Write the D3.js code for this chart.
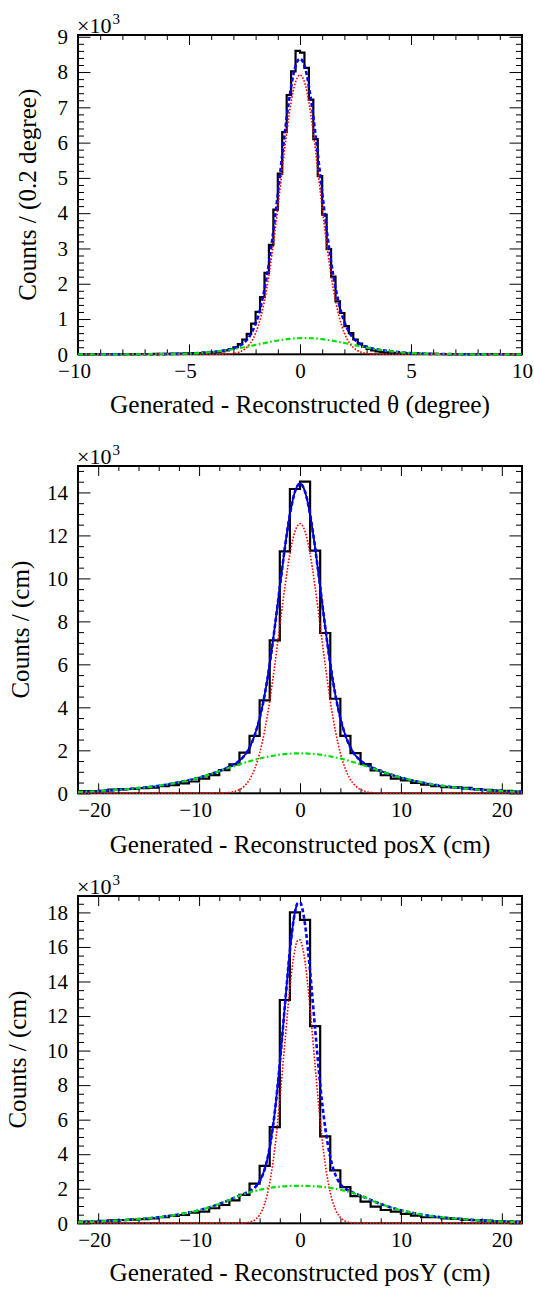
<!DOCTYPE html>
<html><head><meta charset="utf-8">
<script src="https://cdn.jsdelivr.net/npm/d3@7"></script>
<style>
body{margin:0;background:#fff}
svg{display:block}
</style>
</head><body>
<svg id="c" width="534" height="1291"></svg>
<script>
const FONT = "'Liberation Serif', serif";
// ---------------- DATA (counts in units of 10^3) ----------------
// Panel 1: theta residual, 0.2 degree bins from -10 to 10
const thetaCounts = [
 0.002,0.003,0.002,0.003,0.003,0.004,0.003,0.004,0.005,0.004,
 0.005,0.006,0.005,0.007,0.008,0.008,0.009,0.010,0.012,0.013,
 0.015,0.017,0.019,0.022,0.025,0.028,0.032,0.036,0.041,0.047,
 0.055,0.065,0.08,0.11,0.15,0.2,0.29,0.42,0.58,0.87,
 1.2,1.62,2.31,3.1,4.1,5.12,6.3,7.35,8.02,8.6,
 8.55,8.12,7.22,6.1,5.05,3.96,2.98,2.2,1.5,1.17,
 0.8,0.6,0.42,0.3,0.22,0.15,0.11,0.08,0.065,0.055,
 0.046,0.04,0.034,0.03,0.026,0.022,0.019,0.016,0.014,0.012,
 0.01,0.009,0.008,0.007,0.006,0.006,0.005,0.005,0.004,0.004,
 0.004,0.003,0.003,0.003,0.002,0.003,0.002,0.002,0.002,0.002];
const thetaFitX = [-10,-8,-6,-5,-4.5,-4,-3.5,-3,-2.75,-2.5,-2.25,-2,-1.75,-1.5,-1.25,-1,-0.75,-0.5,-0.25,0,
 0.25,0.5,0.75,1,1.25,1.5,1.75,2,2.25,2.5,2.75,3,3.5,4,4.5,5,6,8,10];
const thetaTotal = [0,0.0002,0.006,0.021,0.038,0.063,0.100,0.168,0.232,0.341,0.534,0.865,1.396,2.185,3.252,4.541,5.925,7.175,8.06,8.378,
 8.07,7.195,5.955,4.578,3.296,2.233,1.447,0.918,0.587,0.393,0.280,0.213,0.137,0.090,0.057,0.034,0.010,0.0005,0];
const thetaCore = [0,0,0,0,0,0.0005,0.003,0.024,0.06,0.14,0.301,0.599,1.097,1.853,2.89,4.15,5.51,6.74,7.61,7.92,
 7.61,6.74,5.51,4.15,2.89,1.853,1.097,0.599,0.301,0.14,0.06,0.024,0.003,0.0005,0,0,0,0,0];
const thetaTail = [0,0.0002,0.006,0.021,0.038,0.062,0.097,0.144,0.172,0.201,0.233,0.266,0.299,0.332,0.362,0.391,0.415,0.435,0.450,0.458,
 0.46,0.455,0.445,0.428,0.406,0.380,0.350,0.319,0.286,0.253,0.220,0.189,0.134,0.090,0.057,0.034,0.010,0.0005,0];

// Panel 2: posX residual, 1 cm bins from -22 to 22
const posXCounts = [
 0.10,0.10,0.11,0.17,0.19,0.20,0.24,0.26,0.33,0.38,
 0.46,0.55,0.68,0.85,1.08,1.35,1.89,2.67,4.32,7.12,
 11.26,14.16,14.5,11.29,7.46,4.4,2.67,1.87,1.36,1.06,
 0.84,0.68,0.6,0.48,0.4,0.33,0.29,0.28,0.25,0.19,
 0.16,0.13,0.11,0.08];
const posXFitX = [-22,-21,-20,-19,-18,-17,-16,-15,-14,-13,-12,-11,-10,-9,-8,
 -7,-6.5,-6,-5.5,-5,-4.5,-4,-3.5,-3,-2.5,-2,-1.5,-1,-0.5,0,0.5,1,1.5,2,2.5,3,3.5,4,4.5,5,5.5,6,6.5,7,
 8,9,10,11,12,13,14,15,16,17,18,19,20,21,22];
const posXTotal = [0.065,0.08,0.1,0.13,0.16,0.2,0.24,0.29,0.35,0.42,0.51,0.61,0.73,0.87,1.036,
 1.227,1.352,1.52,1.76,2.13,2.69,3.49,4.59,6.02,7.73,9.60,11.425,12.98,14.035,14.41,14.035,12.98,11.425,9.60,7.73,6.02,4.59,3.49,2.69,2.13,1.76,1.52,1.352,1.227,
 1.036,0.87,0.73,0.61,0.51,0.42,0.35,0.29,0.24,0.2,0.16,0.13,0.1,0.08,0.065];
const posXCore = [0,0,0,0,0,0,0,0,0,0,0,0,0,0,0.006,
 0.037,0.082,0.17,0.34,0.64,1.13,1.87,2.92,4.30,5.97,7.80,9.60,11.14,12.18,12.55,12.18,11.14,9.60,7.80,5.97,4.30,2.92,1.87,1.13,0.64,0.34,0.17,0.082,0.037,
 0.006,0,0,0,0,0,0,0,0,0,0,0,0,0,0];
const posXTail = [0.065,0.08,0.1,0.13,0.16,0.2,0.24,0.29,0.35,0.42,0.51,0.61,0.73,0.87,1.03,
 1.19,1.27,1.35,1.42,1.49,1.56,1.62,1.67,1.72,1.76,1.80,1.825,1.84,1.855,1.86,1.855,1.84,1.825,1.80,1.76,1.72,1.67,1.62,1.56,1.49,1.42,1.35,1.27,1.19,
 1.03,0.87,0.73,0.61,0.51,0.42,0.35,0.29,0.24,0.2,0.16,0.13,0.1,0.08,0.065];

// Panel 3: posY residual, 1 cm bins from -22 to 22
const posYCounts = [
 0.1,0.1,0.14,0.17,0.19,0.21,0.24,0.29,0.35,0.43,
 0.48,0.62,0.68,0.87,1.06,1.33,1.65,2.3,3.33,5.57,
 12.93,18.0,17.57,11.42,5.03,3.06,2.1,1.57,1.26,0.97,
 0.77,0.68,0.54,0.45,0.35,0.35,0.29,0.26,0.2,0.18,
 0.15,0.12,0.1,0.1];
const posYFitX = [-22,-21,-20,-19,-18,-17,-16,-15,-14,-13,-12,-11,-10,-9,-8,-7,
 -6.5,-6,-5.5,-5,-4.5,-4,-3.5,-3,-2.5,-2,-1.5,-1,-0.5,
 -0.25,0,0.25,
 0.5,1,1.5,2,2.5,3,3.5,4,4.5,5,5.5,6,6.5,
 7,8,9,10,11,12,13,14,15,16,17,18,19,20,21,22];
const posYTotal = [0.065,0.08,0.1,0.13,0.16,0.2,0.24,0.29,0.35,0.42,0.51,0.62,0.75,0.92,1.12,1.35,
 1.481,1.605,1.719,1.864,2.057,2.427,3.133,4.40,6.43,9.26,12.59,15.80,18.02,
 18.53,18.58,18.16,
 17.30,14.59,11.24,8.05,5.53,3.83,2.82,2.277,1.993,1.84,1.712,1.603,1.481,
 1.35,1.12,0.92,0.75,0.62,0.51,0.42,0.35,0.29,0.24,0.2,0.16,0.13,0.1,0.08,0.065];
const posYCore = [0,0,0,0,0,0,0,0,0,0,0,0,0,0,0,0,
 0.001,0.005,0.019,0.064,0.187,0.487,1.133,2.35,4.34,7.14,10.45,13.64,15.85,
 16.36,16.41,15.99,
 15.13,12.43,9.10,5.93,3.44,1.78,0.82,0.337,0.123,0.040,0.012,0.003,0.001,
 0,0,0,0,0,0,0,0,0,0,0,0,0,0,0,0];
const posYTail = [0.065,0.08,0.1,0.13,0.16,0.2,0.24,0.29,0.35,0.42,0.51,0.62,0.75,0.92,1.12,1.35,
 1.48,1.6,1.7,1.8,1.87,1.94,2.0,2.05,2.09,2.12,2.14,2.16,2.168,
 2.17,2.17,2.17,
 2.168,2.16,2.14,2.12,2.09,2.05,2.0,1.94,1.87,1.8,1.7,1.6,1.48,
 1.35,1.12,0.92,0.75,0.62,0.51,0.42,0.35,0.29,0.24,0.2,0.16,0.13,0.1,0.08,0.065];

// Tick values
const thetaXMajor = [-10,-5,0,5,10];
const thetaYMajor = [0,1,2,3,4,5,6,7,8,9];
const posXMajor = [-20,-10,0,10,20];
const posXYMajor = [0,2,4,6,8,10,12,14];
const posYYMajor = [0,2,4,6,8,10,12,14,16,18];

const xTitles = ["Generated - Reconstructed \u03B8 (degree)","Generated - Reconstructed posX (cm)","Generated - Reconstructed posY (cm)"];
const yTitles = ["Counts / (0.2 degree)","Counts / (cm)","Counts / (cm)"];

// ---------------- LAYOUT ----------------
const L = 78, R = 522;
const panels = [
 {counts: thetaCounts, lo:-10, bw:0.2, xd:[-10,10], yMax:9.05, top:35, bottom:354.3,
  xMajor: thetaXMajor, xMinorStep:1, yMajor: thetaYMajor, yMinorStep:0.2,
  fx: thetaFitX, total: thetaTotal, core: thetaCore, tail: thetaTail, solid:null,
  xt: xTitles[0], yt: yTitles[0], ytX:36, xtY:413, xtW:380, ytW:212},
 {counts: posXCounts, lo:-22, bw:1, xd:[-22,22], yMax:15.23, top:466, bottom:793.3,
  xMajor: posXMajor, xMinorStep:2, yMajor: posXYMajor, yMinorStep:0.5,
  fx: posXFitX, total: posXTotal, core: posXCore, tail: posXTail, solid:[-22,22], solidColor:"#00008b",
  xt: xTitles[1], yt: yTitles[1], ytX:29, xtY:853, xtW:381, ytW:138},
 {counts: posYCounts, lo:-22, bw:1, xd:[-22,22], yMax:18.95, top:896, bottom:1223.3,
  xMajor: posXMajor, xMinorStep:2, yMajor: posYYMajor, yMinorStep:0.5,
  fx: posYFitX, total: posYTotal, core: posYCore, tail: posYTail, solid:[-4.5,-0.2], solidColor:"#0000e0",
  xt: xTitles[2], yt: yTitles[2], ytX:25.5, xtY:1281, xtW:381, ytW:138}
];

const svg = d3.select("#c");
svg.append("rect").attr("width",534).attr("height",1291).attr("fill","#fff");
const fmt = d3.format("");

panels.forEach((p, pi) => {
  const x = d3.scaleLinear().domain(p.xd).range([L, R]);
  const y = d3.scaleLinear().domain([0, p.yMax]).range([p.bottom, p.top]);
  const g = svg.append("g");
  const H = p.bottom - p.top;

  const xMinor = d3.range(p.xd[0], p.xd[1] + 1e-9, p.xMinorStep).filter(v => !p.xMajor.includes(v));
  const yMinor = d3.range(0, p.yMax + 1e-9, p.yMinorStep).map(v => +v.toFixed(3)).filter(v => !p.yMajor.includes(v));

  function axis(gen, tr, vals, size, labels, pad) {
    const a = gen.tickValues(vals).tickSizeInner(-size).tickSizeOuter(0)
      .tickFormat(labels ? fmt : "").tickPadding(pad || 0);
    const ag = g.append("g").attr("transform", tr).call(a);
    ag.attr("font-family", null).attr("font-size", null);
    ag.select(".domain").remove();
    ag.selectAll("line").attr("stroke","#000").attr("stroke-width",1);
    ag.selectAll("text").style("font-family", FONT).style("font-size","21px").attr("fill","#000");
    return ag;
  }
  // bottom
  const bx = axis(d3.axisBottom(x), `translate(0,${p.bottom})`, p.xMajor, 10, true, 9);
  bx.selectAll("text").attr("dx", d => d < 0 ? -4 : 0);
  axis(d3.axisBottom(x), `translate(0,${p.bottom})`, xMinor, 5, false);
  // top
  axis(d3.axisTop(x), `translate(0,${p.top})`, p.xMajor, 10, false);
  axis(d3.axisTop(x), `translate(0,${p.top})`, xMinor, 5, false);
  // left
  axis(d3.axisLeft(y), `translate(${L},0)`, p.yMajor, 12.5, true, 10);
  axis(d3.axisLeft(y), `translate(${L},0)`, yMinor, 6, false);
  // right
  axis(d3.axisRight(y), `translate(${R},0)`, p.yMajor, 12.5, false);
  axis(d3.axisRight(y), `translate(${R},0)`, yMinor, 6, false);

  // frame
  g.append("rect").attr("x", L).attr("y", p.top).attr("width", R - L).attr("height", H)
    .attr("fill","none").attr("stroke","#000").attr("stroke-width",2);

  // clip
  const cid = "clip" + pi;
  svg.append("clipPath").attr("id", cid).append("rect")
    .attr("x", L).attr("y", p.top).attr("width", R - L).attr("height", H + 2);
  const pg = g.append("g").attr("clip-path", `url(#${cid})`);

  // histogram (step outline)
  const steps = p.counts.map((c, i) => [p.lo + i * p.bw, c]);
  steps.push([p.lo + p.counts.length * p.bw, p.counts[p.counts.length - 1]]);
  const stepLine = d3.line().x(d => x(d[0])).y(d => y(d[1])).curve(d3.curveStepAfter);
  pg.append("path").attr("d", stepLine(steps)).attr("fill","none")
    .attr("stroke","#000").attr("stroke-width",2.2);

  const fit = d3.line().x(d => x(d[0])).y(d => y(d[1])).curve(d3.curveMonotoneX);
  const pts = arr => p.fx.map((v, i) => [v, arr[i]]);

  if (p.solid) {
    const sp = pts(p.total).filter(d => d[0] >= p.solid[0] && d[0] <= p.solid[1]);
    pg.append("path").attr("d", fit(sp)).attr("fill","none")
      .attr("stroke", p.solidColor).attr("stroke-width",1.8);
  }
  pg.append("path").attr("d", fit(pts(p.total))).attr("fill","none")
    .attr("stroke","#0000ff").attr("stroke-width",2.6).attr("stroke-dasharray","4,2.5");
  pg.append("path").attr("d", fit(pts(p.core))).attr("fill","none")
    .attr("stroke","#ff0000").attr("stroke-width",1.6).attr("stroke-dasharray","1.6,1.6");
  pg.append("path").attr("d", fit(pts(p.tail))).attr("fill","none")
    .attr("stroke","#00e000").attr("stroke-width",2.2).attr("stroke-dasharray","5,2.5,1.6,2.5");

  // x10^3
  const mt = g.append("text").attr("x", 77).attr("y", p.top - 2.5)
    .style("font-family", FONT).style("font-size","22px");
  mt.append("tspan").text("\u00D710");
  mt.append("tspan").style("font-size","15px").attr("dy", -9).attr("dx", 1).text("3");

  // titles (font size fitted to the reference title width)
  const xt = g.append("text").attr("x", (L + R) / 2).attr("y", p.xtY).attr("text-anchor","middle")
    .style("font-family", FONT).style("font-size","25px").text(p.xt);
  const w1 = xt.node().getComputedTextLength();
  if (w1 > 0) xt.style("font-size", Math.max(20, Math.min(27, 25 * p.xtW / w1)) + "px");
  const yt = g.append("text").attr("transform", `translate(${p.ytX},${(p.top + p.bottom) / 2}) rotate(-90)`)
    .attr("text-anchor","middle").style("font-family", FONT).style("font-size","25px").text(p.yt);
  const w2 = yt.node().getComputedTextLength();
  if (w2 > 0) yt.style("font-size", Math.max(20, Math.min(27, 25 * p.ytW / w2)) + "px");
});
</script>
</body></html>
